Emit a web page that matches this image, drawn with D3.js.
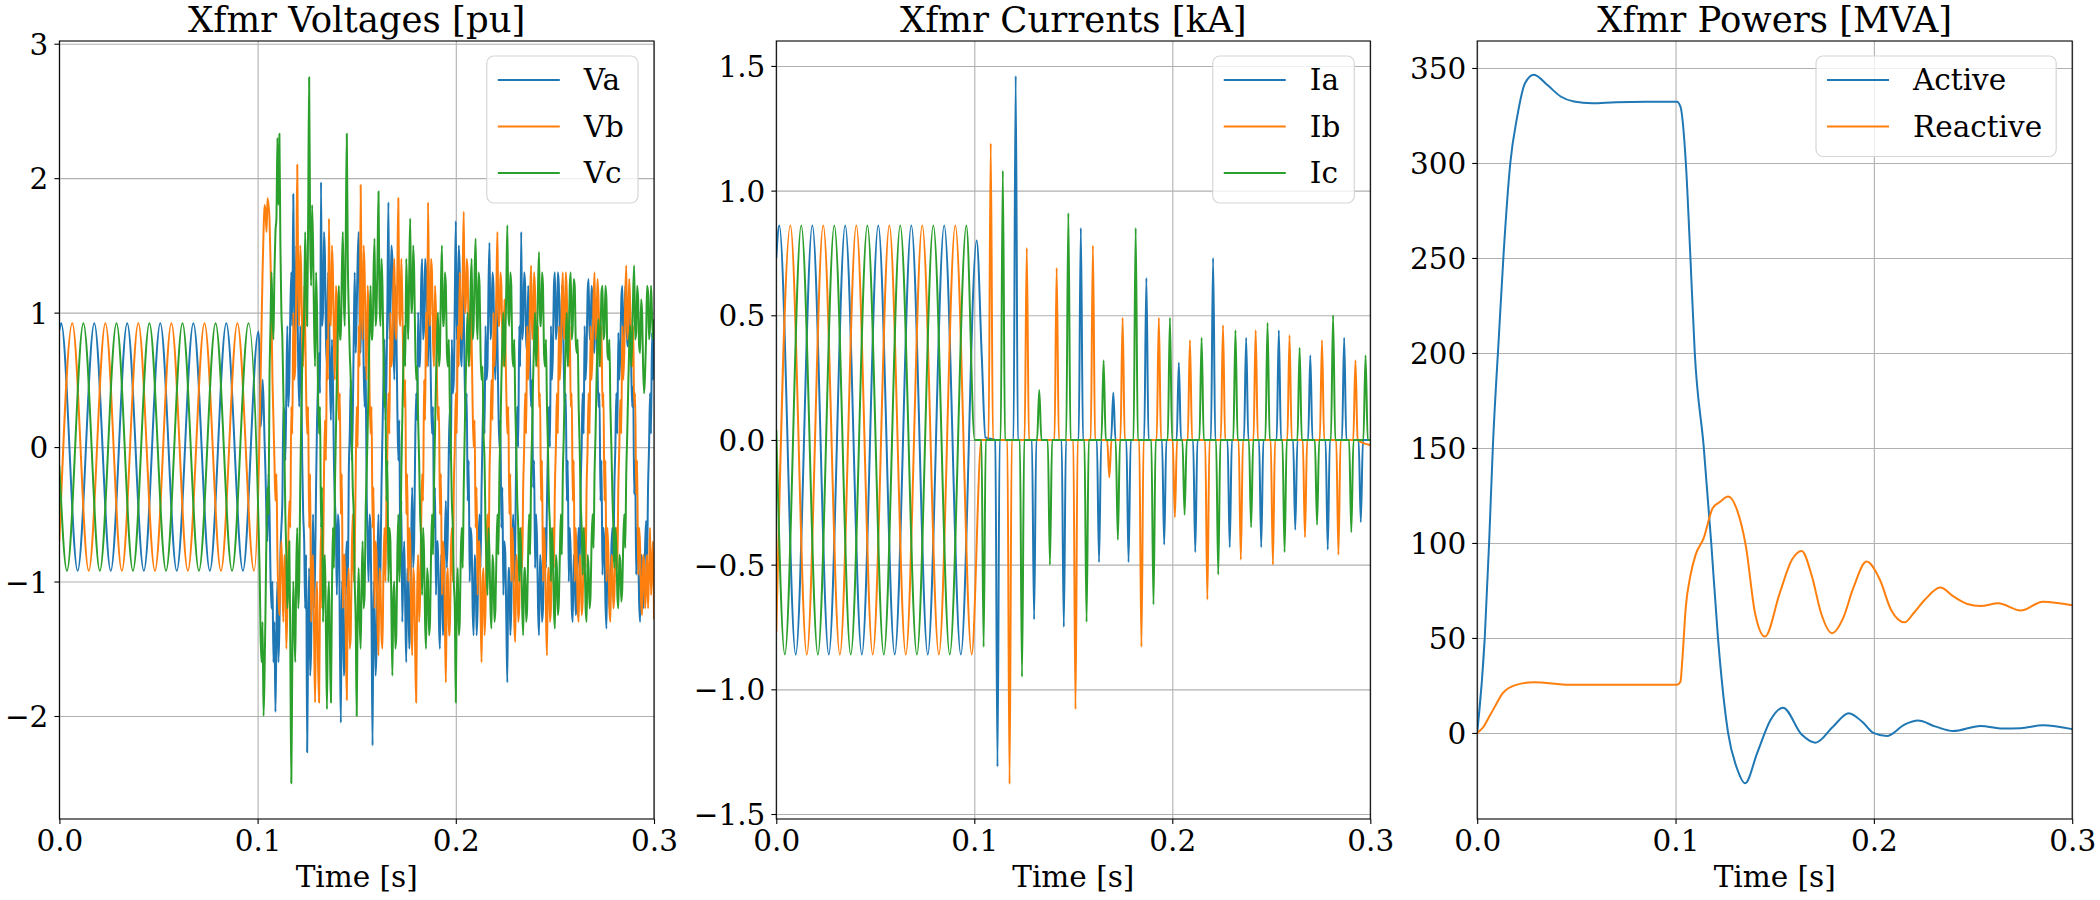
<!DOCTYPE html>
<html>
<head>
<meta charset="utf-8">
<script src="https://cdn.jsdelivr.net/npm/d3@7"></script>
<style>
  body { margin: 0; background: #fff; }
  svg { display: block; }
</style>
</head>
<body>
<svg id="chart" width="2100" height="900"></svg>
<script>
// ---- tick values ----
const timeTicks = [0, 0.1, 0.2, 0.3];
const voltTicks = [-2, -1, 0, 1, 2, 3];
const currTicks = [-1.5, -1, -0.5, 0, 0.5, 1, 1.5];
const powTicks = [0, 50, 100, 150, 200, 250, 300, 350];

// ---- voltages [pu] : pre-fault turning points [t, v] ----
const vaPre = [[0,0.87],[0.0009,0.92],[0.0092,-0.92],[0.0176,0.92],[0.0259,-0.92],[0.0342,0.92],[0.0426,-0.92],[0.0509,0.92],[0.0592,-0.92],[0.0676,0.92],[0.0759,-0.92],[0.0842,0.92],[0.0926,-0.92],[0.1004,0.86]];
const vbPre = [[0,-0.70],[0.0065,0.92],[0.0148,-0.92],[0.0232,0.92],[0.0315,-0.92],[0.0398,0.92],[0.0482,-0.92],[0.0565,0.92],[0.0648,-0.92],[0.0732,0.92],[0.0815,-0.92],[0.0898,0.92],[0.0982,-0.92]];
const vcPre = [[0,-0.14],[0.0038,-0.92],[0.0121,0.92],[0.0204,-0.92],[0.0288,0.92],[0.0371,-0.92],[0.0454,0.92],[0.0538,-0.92],[0.0621,0.92],[0.0704,-0.92],[0.0788,0.92],[0.0871,-0.92],[0.0954,0.92]];

// post-fault samples, one every 0.5 ms from 0.101 s
const postStart = 0.101, postStep = 0.0005;
const vaPost = [0.7,0.15,0.25,0.5,0.35,0.05,-0.2,-0.55,-0.7,-0.2,-0.45,-0.95,-1.2,-1.0,-1.6,-1.3,-1.97,-1.4,-1.0,-1.6,-1.35,-0.8,-0.6,-0.4,0.3,0.25,-0.1,0.4,0.9,0.3,0.5,1.0,
  1.3,0.9,1.88,1.1,0.8,1.5,1.2,0.6,0.3,0.9,0.6,-0.1,-0.5,-0.7,-1.2,-0.8,-2.27,-1.4,-0.9,-1.7,-1.5,-0.9,-0.5,-1.2,-0.9,-0.3,0.2,0.5,0.7,0.4,
  1.97,0.9,1.0,1.6,1.4,0.8,0.6,1.3,1.1,0.5,0.2,0.8,0.5,-0.1,-0.4,-0.6,-1.1,-0.5,-0.6,-1.4,-2.05,-1.0,-1.1,-1.7,-1.6,-0.9,-0.7,-1.1,-0.2,0.1,0.5,-0.1,0.2,0.8,1.3,0.7,
  1.0,1.4,1.6,0.9,0.7,1.3,1.2,0.6,0.3,0.6,-0.3,-0.7,-1.0,-0.5,-0.6,-1.3,-2.22,-1.0,-1.2,-1.7,-1.5,-0.8,-0.5,-1.1,-0.9,-0.3,0.1,0.5,0.8,0.2,0.5,1.1,1.82,0.8,
  1.0,1.5,1.4,0.8,0.5,1.2,0.9,0.3,-0.1,0.2,-0.8,-0.4,-1.3,-0.9,-0.7,-1.2,-1.6,-0.9,-1.0,-1.5,-1.3,-0.7,-0.3,-0.9,-0.7,0.0,0.4,0.2,1.0,0.6,0.6,1.2,1.4,0.8,
  0.9,1.4,1.3,0.8,0.6,1.2,0.9,0.4,0.1,0.3,-0.6,-0.3,-1.1,-0.7,-0.7,-1.3,-1.5,-0.8,-0.9,-1.4,-1.2,-0.7,-0.4,-0.9,-0.6,0.0,0.3,-0.1,0.8,0.4,0.5,1.1,1.68,0.8,
  1.0,1.5,1.3,0.7,0.6,1.2,1.0,0.5,0.2,0.4,-0.4,-0.1,-1.0,-0.6,-0.7,-1.2,-1.4,-0.8,-0.9,-1.4,-1.2,-0.7,-0.5,-0.9,-0.3,0.1,0.4,0.1,0.9,0.5,0.6,1.2,1.52,0.8,
  0.9,1.3,1.2,0.7,0.5,1.1,0.8,0.3,0.0,0.2,-0.6,-0.3,-1.1,-0.7,-0.8,-1.3,-1.75,-0.9,-0.9,-1.4,-1.2,-0.7,-0.5,-1.0,-0.7,0.0,0.3,0.0,0.9,0.6,1.6,0.8,
  0.9,1.3,1.2,0.8,0.7,1.2,1.0,0.6,0.3,0.5,-0.3,-0.1,-0.9,-0.5,-0.7,-1.2,-1.4,-0.8,-0.9,-1.3,-1.2,-0.8,-0.6,-0.9,-0.4,0.0,0.3,0.0,0.9,0.5,0.7,1.2,1.3,0.8,
  0.9,1.3,1.2,0.8,0.7,1.2,1.0,0.6,0.3,0.4,-0.4,-0.1,-1.0,-0.6,-0.8,-1.2,-1.3,-0.8,-0.9,-1.25,-1.15,-0.8,-0.6,-0.9,-0.3,0.0,0.4,0.1,0.9,0.5,0.7,1.15,1.25,0.8,
  0.85,1.2,1.1,0.75,0.7,1.1,0.95,0.6,0.3,0.4,-0.4,-0.1,-0.95,-0.6,-0.75,-1.15,-1.35,-0.8,-0.9,-1.2,-1.1,-0.75,-0.6,-0.85,-0.3,0.0,0.4,0.1,0.85,0.5,0.7,1.1,1.2,0.8,
  0.85,1.2,1.05,0.75,0.75,1.1,0.95,0.6,0.3,0.45,-0.35,-0.1,-0.95,-0.6,-0.75,-1.15,-1.3,-0.8,-0.85,-1.2,-1.05,-0.75,-0.55,-0.85,-0.3,0.0,0.4,0.1,0.85,0.5,0.9];
const vbPost = [0.1,0.5,0.9,1.3,1.6,1.8,1.75,1.6,1.85,1.8,1.7,1.4,1.0,0.5,0.2,-0.1,-0.4,-0.2,-0.8,-1.1,
  -1.25,-0.9,-0.7,-1.0,-1.3,-0.8,-0.9,-1.5,-1.2,-0.7,-0.4,-0.6,0.3,0.1,1.0,0.5,0.6,1.2,2.1,1.2,
  0.9,1.5,1.3,0.8,0.6,1.2,0.9,0.4,0.1,0.3,-0.6,-0.2,-1.3,-0.9,-0.8,-1.4,-1.9,-1.2,-1.0,-1.6,
  -1.9,-1.1,-0.6,-1.2,-0.9,-0.2,0.2,-0.1,0.8,0.5,1.7,1.0,0.9,1.5,1.3,0.8,0.5,1.2,1.1,0.5,
  0.2,0.4,-0.5,-0.2,-1.2,-0.8,-0.8,-1.4,-1.88,-1.1,-0.9,-1.5,-1.4,-0.8,-0.5,-1.0,-0.8,-0.2,0.3,0.0,
  0.9,0.6,1.95,1.1,0.8,1.5,1.3,0.8,0.5,1.2,1.0,0.4,0.1,0.3,-0.6,-0.3,-1.2,-0.7,-0.8,-1.3,
  -1.55,-0.9,-1.0,-1.4,-1.5,-0.9,-0.6,-1.0,-0.4,0.0,0.4,0.1,1.0,0.6,0.7,1.2,1.4,0.9,0.8,1.3,
  1.85,1.0,0.9,1.4,1.1,0.6,0.3,0.5,-0.5,-0.2,-1.0,-0.6,-0.7,-1.3,-1.55,-0.9,-1.0,-1.5,-1.9,
  -1.1,-0.8,-1.3,-1.1,-0.6,-0.2,-0.4,0.5,0.2,1.0,0.6,1.82,1.1,0.9,1.4,1.3,0.8,0.6,1.2,1.0,
  0.5,0.2,0.3,-0.5,-0.2,-1.1,-0.7,-0.8,-1.3,-1.75,-1.0,-0.9,-1.4,-1.4,-0.8,-0.6,-1.0,-0.3,0.0,0.4,
  0.1,0.9,0.6,1.3,0.9,0.8,1.3,1.75,1.0,1.0,1.4,1.3,0.8,0.6,1.1,0.8,0.3,0.0,0.2,-0.6,
  -0.3,-1.1,-0.7,-0.7,-1.2,-1.6,-1.0,-0.9,-1.4,-1.2,-0.7,-0.5,-0.9,-0.2,0.1,0.5,0.2,1.0,0.6,0.8,
  1.2,1.6,0.9,0.9,1.3,1.2,0.8,0.6,1.1,0.8,0.4,0.1,0.3,-0.5,-0.2,-1.0,-0.6,-0.8,-1.3,-1.45,
  -0.8,-0.9,-1.3,-1.2,-0.8,-0.6,-0.9,-0.3,0.0,0.4,0.1,0.9,0.5,0.7,1.1,1.35,0.8,0.9,1.3,1.15,
  0.8,0.6,0.9,0.3,0.4,-0.4,-0.1,-1.0,-0.6,-0.8,-1.25,-1.55,-0.9,-0.9,-1.3,-1.2,-0.8,-0.6,-0.9,-0.3,
  0.0,0.4,0.1,0.9,0.5,0.7,1.1,1.3,0.8,0.9,1.3,1.15,0.8,0.6,0.9,0.3,0.4,-0.4,-0.1,-1.0,
  -0.6,-0.8,-1.2,-1.3,-0.8,-0.9,-1.25,-1.15,-0.8,-0.6,-0.9,-0.3,0.0,0.4,0.1,0.9,0.5,0.7,1.1,1.3,
  0.8,0.9,1.25,1.1,0.8,0.6,0.9,0.3,0.4,-0.4,-0.1,-1.0,-0.6,-0.8,-1.2,-1.3,-0.8,-0.85,-1.2,-1.1,
  -0.8,-0.6,-0.9,-0.3,0.0,0.35,0.1,0.9,0.5,0.7,1.1,1.35,0.8,0.9,1.25,1.05,0.8,0.6,0.9,0.3,
  0.4,-0.35,-0.1,-0.95,-0.6,-0.75,-1.15,-1.25,-0.8,-0.85,-1.2,-1.05,-0.8,-1.2,-0.9,-0.6,-1.1,-0.9,-0.7,-1.28];
const vcPost = [-0.9,-1.4,-1.6,-1.3,-2.0,-1.7,-1.2,-0.6,-0.3,-0.5,0.5,0.9,1.3,1.0,0.8,1.3,1.6,1.7,2.3,1.8,
  2.33,1.5,1.0,0.8,0.4,0.0,-0.5,-0.8,-1.2,-1.0,-0.7,-1.5,-2.5,-1.6,-1.0,-1.3,-1.6,-0.9,-0.6,-1.2,
  -1.0,-0.3,0.2,0.6,0.8,1.0,1.6,1.2,0.9,1.7,2.75,1.6,1.2,1.8,1.5,0.9,0.6,1.3,1.0,0.4,
  0.1,0.3,-0.6,-0.3,-1.3,-0.9,-0.8,-1.4,-1.95,-1.2,-1.0,-1.5,-1.9,-1.1,-0.6,-0.9,-0.3,0.1,0.5,
  0.9,1.2,0.8,0.8,1.3,1.6,1.1,0.9,1.6,2.33,1.4,1.0,0.7,0.5,0.1,-0.3,-0.5,-1.0,-1.3,-2.0,
  -1.2,-0.9,-1.3,-1.5,-1.0,-0.7,-1.2,-1.1,-0.5,-0.2,0.1,0.5,0.9,1.2,0.8,0.8,1.3,1.55,0.9,1.0,
  1.4,1.9,1.1,0.9,1.4,1.2,0.7,0.3,0.4,-0.4,-0.1,-1.0,-0.6,-0.7,-1.2,-1.7,-1.1,-1.0,-1.5,-1.4,
  -0.8,-0.5,-1.0,-0.8,-0.2,0.2,0.6,0.9,0.6,1.4,1.1,0.8,1.3,1.7,1.0,1.0,1.5,1.3,0.8,0.5,
  0.6,0.2,-0.1,-0.5,-0.7,-1.1,-0.6,-0.8,-1.3,-1.5,-0.9,-1.0,-1.4,-1.3,-0.8,-0.5,-0.8,-0.3,0.1,0.5,
  0.8,1.0,0.6,0.7,1.2,1.5,0.9,0.9,1.3,1.2,0.7,0.6,0.8,0.3,0.0,-0.4,-0.6,-1.0,-1.2,-1.9,
  -1.1,-0.9,-1.4,-1.3,-0.8,-0.6,-0.9,-0.3,0.1,0.5,0.8,1.0,0.6,0.8,1.2,1.4,0.8,0.9,1.3,1.55,
  1.0,0.8,1.3,1.2,0.7,0.5,0.6,0.1,-0.1,-0.6,-0.9,-1.1,-0.6,-0.8,-1.2,-1.35,-0.8,-0.9,-1.3,-1.2,
  -0.8,-0.5,-0.8,-0.2,0.1,0.5,0.8,1.0,0.6,0.8,1.2,1.65,1.0,0.9,1.3,1.2,0.7,0.6,0.8,0.3,
  0.0,-0.4,-0.6,-1.0,-0.6,-0.8,-1.2,-1.4,-0.9,-0.9,-1.3,-1.2,-0.8,-0.5,-0.8,-0.2,0.1,0.5,0.8,1.0,
  0.6,0.8,1.2,1.45,0.9,0.9,1.3,1.2,0.7,0.6,0.8,0.3,0.0,-0.4,-0.6,-1.0,-0.6,-0.8,-1.2,-1.35,
  -0.8,-0.9,-1.25,-1.15,-0.8,-0.5,-0.8,-0.2,0.1,0.5,0.8,1.0,0.6,0.8,1.2,1.3,0.8,0.9,1.25,1.2,
  0.8,0.7,0.8,0.3,0.0,-0.4,-0.6,-0.95,-0.6,-0.8,-1.2,-1.3,-0.8,-0.9,-1.2,-1.1,-0.7,-0.5,-0.75,-0.2,
  0.1,0.5,0.8,0.95,0.6,0.8,1.15,1.2,0.8,0.85,1.2,1.1,0.7,0.65,0.8,0.3,0.0,-0.35,-0.6,-0.9,
  -0.6,-0.75,-1.1,-1.2,-0.8,-0.85,-1.15,-1.05,-0.7,-0.5,-0.75,-0.2,0.1,0.45,0.75,0.9,0.6,0.8,1.15,1.35,
  0.8,0.85,1.2,1.1,0.75,0.7,1.1,1.0,0.6,0.4,0.55,0.8,1.2,1.15,0.8,0.9,1.2,1.0,0.8,0.95];

// ---- currents [kA] ----
const iaPre = [[0,0.73],[0.0015,0.86],[0.0098,-0.86],[0.0182,0.86],[0.0265,-0.86],[0.0348,0.86],[0.0432,-0.86],[0.0515,0.86],[0.0598,-0.86],[0.0682,0.86],[0.0765,-0.86],[0.0848,0.86],[0.0932,-0.86],[0.1012,0.80],[0.1038,0.33],[0.1056,0.01],[0.3,0.0]];
const ibPre = [[0,-0.77],[0.0071,0.86],[0.0154,-0.86],[0.0237,0.86],[0.0321,-0.86],[0.0404,0.86],[0.0487,-0.86],[0.0571,0.86],[0.0654,-0.86],[0.0737,0.86],[0.0821,-0.86],[0.0904,0.86],[0.0987,-0.86],[0.1036,0.0],[0.3,-0.02]];
const icPre = [[0,0.04],[0.0043,-0.86],[0.0126,0.86],[0.0210,-0.86],[0.0293,0.86],[0.0376,-0.86],[0.0460,0.86],[0.0543,-0.86],[0.0626,0.86],[0.0710,-0.86],[0.0793,0.86],[0.0876,-0.86],[0.0960,0.86],[0.1002,0.0],[0.3,0.0]];
// post-fault current spikes [t, peak]
const iaSpikes = [[0.1117,-1.31],[0.1209,1.46],[0.1302,-0.72],[0.1452,-0.75],[0.1538,0.85],[0.1630,-0.49],[0.1702,0.19],[0.1779,-0.49],[0.1869,0.65],[0.1959,-0.42],[0.2033,0.31],[0.2116,-0.45],[0.2206,0.73],[0.2290,-0.43],[0.2373,0.41],[0.2449,-0.43],[0.2538,0.44],[0.2621,-0.36],[0.2697,0.34],[0.2785,-0.44],[0.2868,0.41],[0.2952,-0.33]];
const ibSpikes = [[0.1083,1.19],[0.1178,-1.38],[0.1265,0.77],[0.1416,0.69],[0.1511,-1.08],[0.1599,0.78],[0.1682,-0.15],[0.1749,0.49],[0.1844,-0.83],[0.1932,0.49],[0.2013,-0.31],[0.2089,0.40],[0.2177,-0.64],[0.2256,0.46],[0.2346,-0.48],[0.2421,0.44],[0.2508,-0.50],[0.2592,0.42],[0.2670,-0.39],[0.2756,0.40],[0.2839,-0.46],[0.2925,0.32]];
const icSpikes = [[0.1047,-0.83],[0.1144,1.08],[0.1241,-0.95],[0.1328,0.20],[0.1382,-0.50],[0.1475,0.91],[0.1567,-0.73],[0.1653,0.32],[0.1725,-0.40],[0.1815,0.85],[0.1905,-0.66],[0.1988,0.49],[0.2062,-0.30],[0.2148,0.41],[0.2232,-0.54],[0.2319,0.44],[0.2398,-0.35],[0.2481,0.47],[0.2567,-0.45],[0.2643,0.37],[0.2731,-0.34],[0.2812,0.50],[0.2904,-0.37],[0.2976,0.34]];

// ---- powers [MVA] ----
const activeP = [[0,0],[0.0038,50],[0.006,100],[0.0079,150.7],[0.011,210],[0.0133,252],[0.0167,300],[0.0201,324],[0.0241,342],[0.0286,346.5],[0.0354,341],[0.0421,335],[0.0488,332.3],[0.0579,331.4],[0.07,332],[0.085,332.2],[0.1007,332.2],[0.1025,329.6],[0.1052,300],[0.1074,252.6],[0.1097,200],[0.1142,150.7],[0.118,100],[0.1214,50],[0.1265,0],[0.131,-18.7],[0.1351,-26.5],[0.1412,-10.5],[0.1479,6.8],[0.1542,13.3],[0.1637,-1],[0.1705,-5.1],[0.1794,3.3],[0.1873,10.4],[0.1944,5.6],[0.1997,0],[0.2065,-1.6],[0.2155,4.4],[0.2222,6.5],[0.2312,3.3],[0.2399,1.0],[0.2537,3.7],[0.265,2.3],[0.274,2.5],[0.2853,4],[0.3,2]];
const reactiveQ = [[0,0],[0.003,3],[0.0061,8.6],[0.0095,15],[0.0129,20.9],[0.0196,25.3],[0.0286,26.7],[0.0466,25.4],[0.07,25.3],[0.1007,25.3],[0.1025,27],[0.1033,36.7],[0.1052,66.5],[0.1074,82.3],[0.1101,93.7],[0.1142,102.5],[0.1187,118.3],[0.1225,121.7],[0.1265,124.4],[0.131,117.4],[0.1355,98.1],[0.1401,63],[0.1451,50.7],[0.1525,73.5],[0.1586,91],[0.1636,95.8],[0.1688,82.3],[0.1734,63],[0.1789,52.5],[0.1845,60.4],[0.1896,76.2],[0.1963,90.2],[0.2031,80.5],[0.2087,64.7],[0.2155,58.2],[0.22,63],[0.2256,70],[0.2335,76.5],[0.2403,71.7],[0.2471,67.9],[0.2537,66.8],[0.2627,68.2],[0.274,64.4],[0.2853,69.1],[0.3,67.2]];

const colors = ["#1f77b4", "#ff7f0e", "#2ca02c"];
const FONT = "DejaVu Serif, serif";

function withPost(pre, post) {
  return pre.concat(post.map((v, j) => [postStart + j * postStep, v]));
}
// each spike drawn as a narrow peak back to the zero baseline
function withSpikes(pre, spikes) {
  const w = 0.0011;
  const pts = pre.concat(spikes.flatMap(([t, v]) => [[t - w, 0], [t, v], [t + w, 0]]));
  return pts.sort((a, b) => a[0] - b[0]);
}

const axTop = 41, axBot = 819;
const panels = [
  { x0: 59.4, x1: 654, title: "Xfmr Voltages [pu]", yDom: [-2.766, 3.02], yTicks: voltTicks, yFmt: d3.format("d"),
    series: [
      { name: "Va", pts: withPost(vaPre, vaPost) },
      { name: "Vb", pts: withPost(vbPre, vbPost) },
      { name: "Vc", pts: withPost(vcPre, vcPost) }] },
  { x0: 776.3, x1: 1370.3, title: "Xfmr Currents [kA]", yDom: [-1.52, 1.60], yTicks: currTicks, yFmt: d3.format(".1f"),
    series: [
      { name: "Ia", pts: withSpikes(iaPre, iaSpikes) },
      { name: "Ib", pts: withSpikes(ibPre, ibSpikes) },
      { name: "Ic", pts: withSpikes(icPre, icSpikes) }] },
  { x0: 1477.2, x1: 2072.2, title: "Xfmr Powers [MVA]", yDom: [-45.3, 364.2], yTicks: powTicks, yFmt: d3.format("d"),
    series: [
      { name: "Active", pts: activeP },
      { name: "Reactive", pts: reactiveQ }] }
];

const svg = d3.select("#chart");
svg.append("rect").attr("width", 2100).attr("height", 900).attr("fill", "#fff");

panels.forEach((p, k) => {
  const x = d3.scaleLinear().domain([0, 0.3]).range([p.x0, p.x1]);
  const y = d3.scaleLinear().domain(p.yDom).range([axBot, axTop]);
  const g = svg.append("g");

  // grid
  g.append("g").attr("transform", `translate(0,${axBot})`)
    .call(d3.axisBottom(x).tickValues(timeTicks).tickSize(-(axBot - axTop)).tickFormat(""))
    .call(a => a.select(".domain").remove())
    .selectAll("line").attr("stroke", "#b0b0b0").attr("stroke-width", 1.1);
  g.append("g").attr("transform", `translate(${p.x0},0)`)
    .call(d3.axisLeft(y).tickValues(p.yTicks).tickSize(-(p.x1 - p.x0)).tickFormat(""))
    .call(a => a.select(".domain").remove())
    .selectAll("line").attr("stroke", "#b0b0b0").attr("stroke-width", 1.1);

  // lines
  const clipId = "clip" + k;
  svg.append("clipPath").attr("id", clipId).append("rect")
    .attr("x", p.x0).attr("y", axTop).attr("width", p.x1 - p.x0).attr("height", axBot - axTop);
  const line = d3.line().x(d => x(d[0])).y(d => y(d[1])).curve(d3.curveMonotoneX);
  g.append("g").attr("clip-path", `url(#${clipId})`)
    .selectAll("path").data(p.series).join("path")
    .attr("d", s => line(s.pts))
    .attr("fill", "none")
    .attr("stroke", (s, i) => colors[i])
    .attr("stroke-width", 2)
    .attr("stroke-linejoin", "round");

  // spines
  g.append("rect").attr("x", p.x0).attr("y", axTop)
    .attr("width", p.x1 - p.x0).attr("height", axBot - axTop)
    .attr("fill", "none").attr("stroke", "#000").attr("stroke-width", 1.1);

  // axes
  const ax = g.append("g").attr("transform", `translate(0,${axBot})`)
    .call(d3.axisBottom(x).tickValues(timeTicks).tickFormat(d3.format(".1f")).tickSize(5).tickPadding(6));
  const ay = g.append("g").attr("transform", `translate(${p.x0},0)`)
    .call(d3.axisLeft(y).tickValues(p.yTicks).tickFormat(p.yFmt).tickSize(5).tickPadding(6));
  [ax, ay].forEach(a => {
    a.select(".domain").remove();
    a.attr("font-family", FONT).attr("font-size", 29.5);
    a.selectAll("line").attr("stroke", "#000").attr("stroke-width", 1.1);
    a.selectAll("text").attr("fill", "#000");
  });
  ay.selectAll("text").attr("dy", "0.36em");

  // title and x label
  const cx = (p.x0 + p.x1) / 2;
  g.append("text").attr("x", cx).attr("y", 32).attr("text-anchor", "middle")
    .attr("font-family", FONT).attr("font-size", 35.5).text(p.title);
  g.append("text").attr("x", cx).attr("y", 887).attr("text-anchor", "middle")
    .attr("font-family", FONT).attr("font-size", 29.5).text("Time [s]");

  // legend, upper right
  const lg = g.append("g");
  const labels = p.series.map((s, i) => lg.append("text")
    .attr("font-family", FONT).attr("font-size", 29.5).attr("y", 56 + 24 + 46.5 * i + 10).text(s.name));
  const tw = d3.max(labels, t => t.node().getComputedTextLength());
  const boxR = p.x1 - 16;
  const textX = boxR - 14 - tw;
  const hEnd = textX - 24, hStart = hEnd - 62;
  const boxL = hStart - 11;
  const boxH = 24 + 46.5 * (p.series.length - 1) + 30;
  lg.insert("rect", "text").attr("x", boxL).attr("y", 56).attr("width", boxR - boxL).attr("height", boxH)
    .attr("rx", 7).attr("fill", "#fff").attr("fill-opacity", 0.8)
    .attr("stroke", "#d6d6d6").attr("stroke-width", 1.2);
  labels.forEach(t => t.attr("x", textX));
  p.series.forEach((s, i) => {
    lg.append("line").attr("x1", hStart).attr("x2", hEnd)
      .attr("y1", 56 + 24 + 46.5 * i).attr("y2", 56 + 24 + 46.5 * i)
      .attr("stroke", colors[i]).attr("stroke-width", 2);
  });
});
</script>
</body>
</html>
